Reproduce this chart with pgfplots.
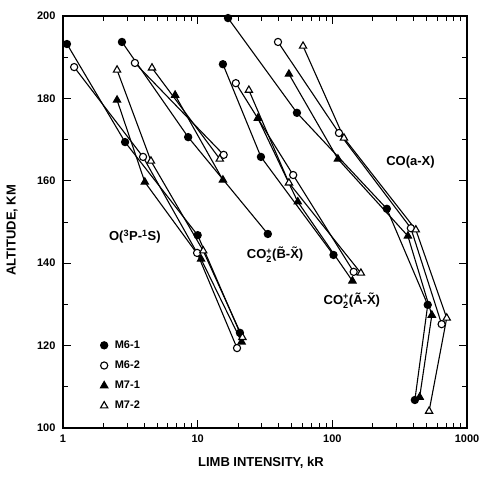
\documentclass[border=0pt]{standalone}
\usepackage{amsmath}
\usepackage{fontspec}
\setmainfont{Liberation Sans}
\usepackage{pgfplots}
\pgfplotsset{compat=1.18}

\begin{document}
\begin{tikzpicture}
\begin{axis}[
  scale only axis, width=404pt, height=412pt,
  xmode=log, xmin=1, xmax=1000, ymin=100, ymax=200,
  xtick={1,10,100,1000}, xticklabels={1,10,100,1000},
  ytick={100,120,...,200}, minor y tick num=1,
  tick align=inside, major tick length=8pt, minor tick length=5pt,
  axis line style={line width=1.3pt}, every tick/.style={black, line width=1pt},
  /pgf/number format/assume math mode=true,
  tick label style={font=\bfseries\fontsize{11}{11}\selectfont},
  xticklabel style={yshift=-3pt},
  yticklabel style={xshift=-4pt},
  clip=false,
  every axis plot/.append style={black, line width=1.1pt, mark size=3.6pt},
  legend style={draw=none, fill=none, at={(rel axis cs:0.085,0.222)}, anchor=north west,
    font=\bfseries\fontsize{11}{11}\selectfont, row sep=7pt, column sep=5pt},
  legend cell align=left,
]
\addlegendimage{only marks, mark=*, black, mark size=3.6pt}\addlegendentry{M6-1}
\addlegendimage{only marks, mark=*, black, mark options={fill=white}, mark size=3.6pt}\addlegendentry{M6-2}
\addlegendimage{only marks, mark=triangle*, black, mark size=4.2pt}\addlegendentry{M7-1}
\addlegendimage{only marks, mark=triangle*, black, mark options={fill=white}, mark size=4.2pt}\addlegendentry{M7-2}

% O(3P-1S)
\addplot[forget plot, mark=*] coordinates {(1.07,193.2)(2.89,169.4)(10.0,146.8)(20.6,123.1)};
\addplot[forget plot, mark=*, mark options={fill=white}] coordinates {(1.21,187.6)(3.93,165.8)(9.9,142.5)(19.6,119.4)};
\addplot[forget plot, mark=triangle*, mark size=4.2pt] coordinates {(2.52,179.6)(4.05,159.7)(10.6,141.0)(21.2,120.9)};
\addplot[forget plot, mark=triangle*, mark size=4.2pt, mark options={fill=white}] coordinates {(2.52,186.9)(4.5,164.8)(11.0,143.0)(21.5,122.0)};

% CO2+(B-X)
\addplot[forget plot, mark=*] coordinates {(2.74,193.7)(8.5,170.6)(33.2,147.1)};
\addplot[forget plot, mark=*, mark options={fill=white}] coordinates {(3.42,188.6)(15.6,166.3)};
\addplot[forget plot, mark=triangle*, mark size=4.2pt] coordinates {(6.8,180.8)(15.4,160.2)};
\addplot[forget plot, mark=triangle*, mark size=4.2pt, mark options={fill=white}] coordinates {(4.58,187.4)(14.6,165.3)};

% CO2+(A-X)
\addplot[forget plot, mark=*] coordinates {(15.4,188.3)(29.5,165.8)(102,142.0)};
\addplot[forget plot, mark=*, mark options={fill=white}] coordinates {(19.2,183.7)(51.2,161.4)(144,137.9)};
\addplot[forget plot, mark=triangle*, mark size=4.2pt] coordinates {(28,175.2)(55.4,154.9)(141,135.7)};
\addplot[forget plot, mark=triangle*, mark size=4.2pt, mark options={fill=white}] coordinates {(24,182.0)(47.6,159.5)(163,137.6)};

% CO(a-X)
\addplot[forget plot, mark=*] coordinates {(16.8,199.5)(54.6,176.5)(254,153.2)(511,129.9)(410,106.8)};
\addplot[forget plot, mark=*, mark options={fill=white}] coordinates {(39.5,193.7)(112,171.6)(383,148.5)(648,125.2)};
\addplot[forget plot, mark=triangle*, mark size=4.2pt] coordinates {(47.6,185.9)(110,165.3)(364,146.6)(548,127.4)(445,107.5)};
\addplot[forget plot, mark=triangle*, mark size=4.2pt, mark options={fill=white}] coordinates {(60.6,192.7)(122,170.4)(417,148.1)(707,126.7)(523,104.1)};

\node[font=\bfseries\fontsize{13}{13}\selectfont] at (rel axis cs:0.178,0.465) {O($^{\textbf{3}}$P-$^{\textbf{1}}$S)};
\node[font=\bfseries\fontsize{13}{13}\selectfont] at (rel axis cs:0.525,0.42) {CO$^{\textbf{+}}_{\textbf{2}}$(\~{B}-\~{X})};
\node[font=\bfseries\fontsize{13}{13}\selectfont] at (rel axis cs:0.715,0.31) {CO$^{\textbf{+}}_{\textbf{2}}$(\~{A}-\~{X})};
\node[font=\bfseries\fontsize{13}{13}\selectfont] at (rel axis cs:0.86,0.645) {CO(a-X)};

\node[rotate=90, font=\bfseries\fontsize{13}{13}\selectfont] at (rel axis cs:-0.126,0.48) {ALTITUDE, KM};
\node[font=\bfseries\fontsize{13}{13}\selectfont] at (rel axis cs:0.49,-0.085) {LIMB INTENSITY, kR};
\end{axis}
\pgfresetboundingbox
\path ([shift={(-63pt,-49pt)}]current axis.south west) rectangle ++(481pt,477pt);
\end{tikzpicture}
\end{document}
